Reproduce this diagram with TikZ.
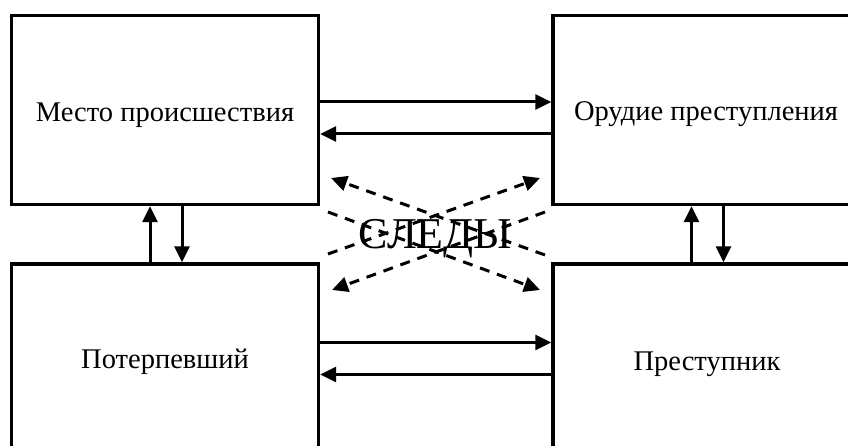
\documentclass[tikz,border=0pt]{standalone}
\usepackage{fontspec}
\setmainfont{Liberation Serif}
\usetikzlibrary{arrows.meta,calc}
\begin{document}
\begin{tikzpicture}[x=1pt,y=-1pt,
  box/.style={draw,line width=3.4pt,minimum width=307pt,minimum height=189pt,inner sep=0pt},
  lbl/.style={anchor=base,font=\fontsize{28.5}{32}\selectfont},
  arr/.style={line width=3pt,-{Triangle[length=16pt,width=15pt]}},
  darr/.style={line width=3pt,dash pattern=on 10pt off 8pt,-{Triangle[length=16pt,width=15pt]}}]
\useasboundingbox (0,0) rectangle (848,446);
\clip (0,0) rectangle (848,446);
\fill[white] (0,0) rectangle (848,446);
\node[box] (TL) at (165,110) {};
\node[box] (TR) at (706.5,110) {};
\node[box] (BL) at (165,358.5) {};
\node[box] (BR) at (706.5,358.5) {};
\node[lbl] (tlt) at (165,121.5) {Место происшествия};
\node[lbl] (trt) at (706,120.5) {Орудие преступления};
\node[lbl] (blt) at (165,368.5) {Потерпевший};
\node[lbl] (brt) at (707,370.5) {Преступник};
% horizontal arrows
\draw[arr] ([yshift=8pt]TL.east) -- ([yshift=8pt]TR.west);
\draw[arr] ([yshift=-24pt]TR.west) -- ([yshift=-24pt]TL.west -| TL.east);
\draw[arr] ([yshift=16pt]BL.east) -- ([yshift=16pt]BR.west);
\draw[arr] ([yshift=-16pt]BR.west) -- ([yshift=-16pt]BL.east);
% vertical arrows
\draw[arr] ([xshift=-15pt]BL.north) -- ([xshift=-15pt]TL.south);
\draw[arr] ([xshift=17pt]TL.south) -- ([xshift=17pt]BL.north);
\draw[arr] ([xshift=-15pt]BR.north) -- ([xshift=-15pt]TR.south);
\draw[arr] ([xshift=17pt]TR.south) -- ([xshift=17pt]BR.north);
% centre text
\node[anchor=base,font=\fontsize{44}{48}\selectfont] (sl) at (435.5,248) {СЛЕДЫ};
% dashed arrows
\coordinate (s1) at (328,212);
\coordinate (s2) at (328,254);
\coordinate (s3) at (545,212);
\coordinate (s4) at (545,255);
\coordinate (e1) at (540,290);
\coordinate (e2) at (540,178);
\coordinate (e3) at (332,290);
\coordinate (e4) at (331,178);
\draw[darr] (s1) -- (e1);
\draw[darr] (s2) -- (e2);
\draw[darr] (s3) -- (e3);
\draw[darr] (s4) -- (e4);
\end{tikzpicture}
\end{document}
